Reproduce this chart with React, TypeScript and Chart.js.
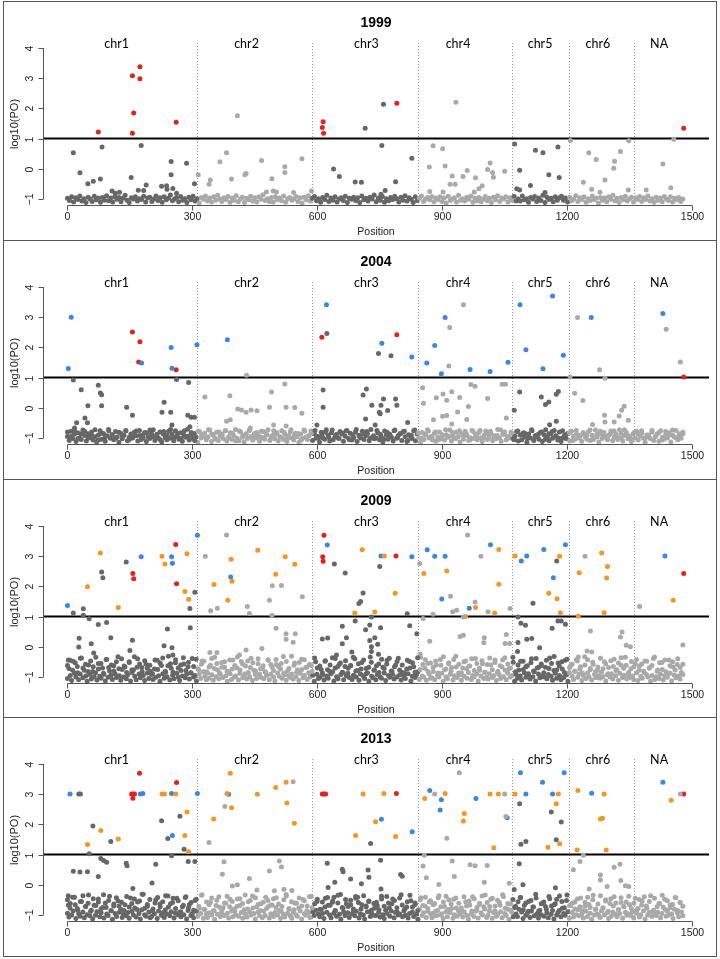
import React, { useEffect, useRef } from "react";
import { Chart, registerables } from "chart.js";
Chart.register(...registerables);

// ---------- shared axis / label data ----------
const chromLabels = ["chr1", "chr2", "chr3", "chr4", "chr5", "chr6", "NA"];
const chromLabelPos = [118, 430, 718, 938, 1135, 1274, 1421];
const chromBounds = [312, 588, 842, 1068, 1205, 1360];
const xTicks = [0, 300, 600, 900, 1200, 1500];
const yTicks = [-1, 0, 1, 2, 3, 4];
const yTickLabels = ["\u22121", "0", "1", "2", "3", "4"];
const threshold = 1;
const years = ["1999", "2004", "2009", "2013"];

// ---------- 1999 ----------
const band1999 = [
  -.98,-1.05,-.93,-1.1,-.96,-1.02,-.9,-1.07,-.99,-1.12,-.94,-1.0,-1.08,-.91,-1.03,-.97,-1.11,-.95,-1.04,-.89,
  -1.06,-.97,-1.1,-.92,-1.01,-.95,-1.09,-.98,-.88,-1.04,-1.12,-.96,-1.0,-.93,-1.07,-.99,-1.02,-.91,-1.1,-.97,
  -.94,-1.08,-1.0,-.9,-1.05,-.96,-1.11,-.93,-1.03,-.98,-.87,-1.06,-1.0,-.95,-1.09,-.92,-1.04,-.99,-1.12,-.94,
  -1.03,-.91,-1.07,-.99,-1.13,-.95,-1.01,-.9,-1.06,-.97,-1.1,-.93,-1.04,-.88,-1.0,-1.08,-.96,-1.02,-.92,-1.11,
  -.97,-1.04,-.89,-1.09,-1.0,-.94,-1.12,-.98,-1.03,-.91,-1.07,-.96,-1.1,-.93,-1.01,-.86,-1.05,-.99,-1.08,-.95,
  -1.1,-.93,-1.02,-.97,-1.06,-.9,-1.11,-.99,-.95,-1.04,-1.0,-.92,-1.08,-.96,-1.13,-.94,-1.03,-.89,-1.07,-.98,
  -.92,-1.06,-.99,-1.11,-.95,-1.02,-.88,-1.08,-.97,-1.04,-.93,-1.1,-1.0,-.96,-1.05,-.91,-1.12,-.98,-1.01,-.94,
  -1.05,-.96,-1.12,-.9,-1.03,-.98,-1.07,-.94,-1.0,-.87,-1.09,-.97,-1.04,-.92,-1.11,-.99,-1.06,-.95,-1.02,-.91,
  -.99,-1.1,-.94,-1.04,-.89,-1.07,-.96,-1.01,-1.12,-.93,-1.05,-.98,-.9,-1.08,-1.0,-.95,-1.03,-.92,-1.09,-.97,
  -1.02,-.93,-1.08,-.97,-1.13,-.91,-1.05,-1.0,-.96,-1.1,-.88,-1.04,-.99,-1.07,-.94,-1.01,-.9,-1.11,-.98,-1.06,
  -.95,-1.09,-1.01,-.92,-1.06,-.98,-1.12,-.94,-1.03,-.89,-1.08,-.97,-1.0,-.93,-1.1,-.96,-1.04,-.91,-1.07,-1.0,
  -1.07,-.9,-1.03,-.99,-1.11,-.95,-1.0,-.92,-1.08,-.97,-1.05,-.88,-1.12,-.94,-1.02,-.98,-1.09,-.93,-1.04,-.96,
  -.91,-1.04,-.97,-1.1,-.94,-1.06,-1.0,-.89,-1.08,-.96,-1.02,-.93,-1.11,-.99,-1.05,-.9,-1.03,-.97,-1.13,-.95,
  -1.04,-.97,-1.09,-.93,-1.01,-.88,-1.06,-.98,-1.12,-.95,-1.03,-.91,-1.07,-1.0,-.94,-1.1,-.96,-1.02,-.92,-1.08,
  -.96,-1.02,-.9,-1.07,-.99,-1.11,-.94,-1.04,-.97,-1.09,-.92,-1.0,-1.05,-.93,-1.1,-.98,-1.03,-.95,-1.08,-1.0,
];
const band1999b = [];
const gray1999 = [
  [14,.53],[30,-.13],[83,.72],[79,-.34],[62,-.41],[49,-.5],[177,.77],[153,-.29],[170,-.71],[183,-.72],[189,-.54],
  [107,-.74],[115,-.81],[125,-.78],[249,.24],[249,-.2],[226,-.58],[238,-.56],[253,-.65],[239,-.68],[262,-.81],
  [286,.18],[305,-.5],[314,-.2],[408,1.76],[382,.53],[366,.23],[343,-.37],[340,-.51],[394,-.34],[429,-.16],
  [426,-.2],[466,.27],[491,-.33],[522,.07],[522,-.12],[478,-.77],[494,-.74],[502,-.77],[543,-.79],[563,.33],
  [586,-.74],[639,-.01],[653,-.26],[691,-.44],[715,1.34],[759,2.14],[755,.77],[706,-.45],[788,-.43],[763,-.72],
  [753,-.84],[827,.35],[933,2.2],[878,.76],[901,.66],[869,.06],[907,.09],[924,-.24],[919,-.51],[931,-.51],
  [950,-.26],[960,-.06],[980,-.3],[996,-.56],[988,-.66],[1015,.19],[1021,-.12],[1023,-.28],[1009,-.02],
  [1050,-.08],[870,-.75],[902,-.77],[977,-.77],[1074,.82],[1124,.61],[1142,.53],[1178,.72],[1208,.94],
  [1086,-.05],[1112,-.55],[1156,-.2],[1181,-.29],[1147,-.79],[1079,-.66],[1086,-.7],[1252,.53],[1270,.31],
  [1328,.57],[1314,.25],[1312,.02],[1291,-.37],[1239,-.45],[1259,-.68],[1279,-.78],[1348,.93],[1347,-.7],
  [1430,.16],[1456,.98],[1449,-.63],[1390,-.7],
];
const red1999 = [
  [74,1.22],[156,3.08],[174,3.38],[174,2.98],[159,1.85],[156,1.18],[261,1.54],[614,1.56],[612,1.37],
  [615,1.18],[791,2.17],[1480,1.34],
];
const blue1999 = [];
const orange1999 = [];

// ---------- 2004 ----------
const band2004 = [
  -.95,-1.08,-.78,-1.02,-.88,-1.12,-.83,-.99,-1.05,-.74,-.92,-1.1,-.86,-1.0,-.8,-1.07,-.96,-1.13,-.9,-.76,
  -1.04,-.85,-1.11,-.93,-.72,-1.01,-.89,-1.06,-.79,-.97,-1.14,-.84,-1.03,-.91,-.77,-1.09,-.98,-.87,-1.0,-.81,
  -.93,-1.1,-.75,-1.05,-.9,-.82,-1.12,-.96,-1.02,-.86,-.73,-1.08,-.94,-1.0,-.8,-1.13,-.88,-.99,-1.06,-.78,
  -1.01,-.87,-1.09,-.76,-.95,-1.04,-.83,-1.11,-.91,-.98,-.71,-1.07,-.89,-1.02,-.85,-.97,-1.14,-.79,-1.0,-.92,
  -.84,-1.06,-.97,-.74,-1.12,-.9,-1.0,-.81,-1.08,-.94,-.87,-1.03,-.77,-1.1,-.96,-.83,-1.05,-.92,-.72,-1.01,
  -1.09,-.8,-.98,-1.13,-.88,-1.02,-.75,-.95,-1.07,-.85,-1.0,-.91,-1.11,-.78,-.99,-1.04,-.86,-.73,-1.08,-.94,
  -.9,-1.03,-.82,-1.1,-.97,-.76,-1.05,-.89,-1.12,-.93,-.8,-1.0,-1.07,-.84,-.96,-1.14,-.87,-1.02,-.74,-.98,
  -1.05,-.92,-.77,-1.08,-.86,-1.01,-.95,-1.13,-.81,-.99,-1.04,-.73,-.9,-1.1,-.83,-1.06,-.97,-.88,-1.0,-.79,
  -.87,-1.11,-.94,-.75,-1.02,-.84,-1.07,-.99,-.8,-1.12,-.91,-1.0,-.78,-1.05,-.93,-.86,-1.09,-.72,-.97,-1.03,
  -1.0,-.83,-1.06,-.95,-1.13,-.77,-.9,-1.04,-.88,-.98,-1.1,-.74,-1.01,-.92,-.85,-1.08,-.79,-.96,-1.12,-.89,
  -.93,-1.02,-.76,-1.09,-.87,-.99,-1.14,-.82,-1.05,-.9,-.73,-1.0,-.95,-1.07,-.84,-1.11,-.97,-.8,-1.03,-.91,
  -1.07,-.89,-.98,-.74,-1.1,-.94,-1.01,-.81,-.96,-1.13,-.86,-1.04,-.78,-.92,-1.08,-.99,-.75,-1.02,-.88,-1.06,
  -.82,-1.0,-1.12,-.91,-.77,-1.05,-.97,-.85,-1.09,-.93,-1.03,-.72,-.99,-1.11,-.88,-.8,-1.06,-.95,-1.0,-.84,
  -1.03,-.94,-.79,-1.1,-.9,-1.06,-.83,-.98,-1.14,-.87,-1.0,-.76,-1.08,-.92,-.96,-1.04,-.81,-1.12,-.89,-.73,
  -.97,-1.09,-.86,-1.01,-.75,-.93,-1.07,-.8,-1.12,-.99,-.9,-1.03,-.84,-1.1,-.78,-.95,-1.05,-.88,-1.0,-.92,
  -1.11,-.85,-.96,-1.04,-.79,-1.08,-.91,-1.0,-.74,-.97,-1.13,-.87,-1.02,-.82,-.94,-1.06,-.9,-.77,-1.09,-.98,
  -.88,-1.05,-.73,-.99,-1.1,-.92,-.81,-1.03,-.95,-1.12,-.86,-1.0,-.78,-1.07,-.93,-.84,-1.01,-1.14,-.9,-.96,
  -1.02,-.8,-1.08,-.94,-.87,-1.11,-.76,-.98,-1.04,-.89,-1.0,-.83,-1.13,-.91,-.97,-.75,-1.06,-.92,-1.01,-.86,
];
const band2004b = [
  -.8,-.95,-.74,-1.03,-.86,-.78,-.99,-.91,-.73,-1.07,-.84,-.96,-.76,-.89,-1.01,-.81,-.93,-.75,-1.05,-.87,
  -.77,-.92,-1.0,-.83,-.74,-.97,-.88,-1.06,-.79,-.9,-.72,-.98,-.85,-1.02,-.76,-.94,-.82,-1.08,-.78,-.89,
  -.95,-.73,-.87,-1.04,-.8,-.91,-.75,-.99,-.84,-1.1,-.77,-.93,-.86,-.74,-1.01,-.82,-.96,-.79,-.9,-1.05,
  -.76,-.88,-.97,-.81,-1.03,-.73,-.92,-.85,-1.07,-.78,-.94,-.83,-.75,-1.0,-.89,-.8,-.98,-.74,-.91,-1.02,
  -.84,-.77,-1.06,-.9,-.72,-.96,-.86,-.79,-1.01,-.93,-.75,-.88,-1.04,-.81,-.95,-.76,-.99,-.85,-.78,-1.08,
  -.91,-.74,-.83,-1.0,-.87,-.77,-.97,-.8,-1.05,-.89,-.73,-.94,-.82,-1.02,-.76,-.9,-.86,-1.07,-.79,-.93,
  -.75,-.99,-.85,-.78,-1.03,-.92,-.74,-.88,-.96,-.81,-1.06,-.77,-.9,-.84,-1.0,-.73,-.95,-.87,-.8,-1.04,
  -.86,-.79,-.94,-1.01,-.76,-.89,-.83,-1.08,-.75,-.97,-.82,-.91,-.74,-1.05,-.88,-.78,-.93,-1.0,-.85,-.77,
  -.98,-.84,-.73,-.92,-1.04,-.8,-.87,-.76,-1.02,-.9,-.75,-.96,-.83,-1.07,-.79,-.89,-.74,-.99,-.86,-.81,
];
const gray2004 = [
  [14,.92],[33,.6],[74,.75],[79,.49],[82,.43],[82,.07],[49,.07],[42,-.34],[48,-.5],[22,-.5],[17,-.67],[142,.02],
  [156,-.25],[232,.18],[227,-.15],[248,-.15],[251,-.57],[262,.94],[291,.84],[289,-.25],[297,-.31],[305,-.31],
  [294,-.63],[330,.36],[390,.4],[430,1.08],[382,-.45],[391,-.4],[409,-.04],[418,-.07],[429,-.15],[441,-.07],
  [455,-.1],[485,.02],[490,.52],[522,.79],[525,.02],[546,.01],[563,-.18],[495,-.57],[525,-.6],[439,-.67],
  [623,2.46],[614,.59],[614,.02],[599,-.57],[747,1.8],[777,1.72],[710,.42],[718,.62],[731,.08],[753,.08],
  [759,.29],[769,-.09],[788,.29],[791,.08],[749,-.15],[751,-.2],[716,-.37],[739,-.57],[817,-.49],
  [951,3.41],[918,2.66],[916,1.38],[853,.66],[855,.15],[879,-.4],[886,.33],[902,.46],[911,.25],[923,.53],
  [901,-.28],[911,-.26],[923,-.54],[937,-.14],[942,.34],[963,.04],[959,-.39],[969,.77],[979,.71],[1009,.31],
  [1044,.78],[1052,.78],[1054,-.34],[1086,.52],[1073,-.08],[1138,.36],[1148,.11],[1156,.19],[1174,.45],
  [1179,.54],[1158,-.56],[1174,-.45],[1207,1.02],[1225,2.99],[1218,.48],[1238,.24],[1278,1.26],[1291,.98],
  [1290,-.25],[1291,-.47],[1261,-.55],[1313,-.47],[1325,-.27],[1331,-.08],[1337,.05],[1347,-.41],
  [1438,2.6],[1472,1.52],
];
const red2004 = [
  [156,2.51],[174,2.19],[171,1.52],[261,1.26],[611,2.34],[791,2.42],[1480,1.02],
];
const blue2004 = [
  [9,3.0],[2,1.3],[249,2.0],[251,1.31],[178,1.48],[311,2.09],[384,2.25],[622,3.41],[755,2.14],[827,1.68],
  [863,1.48],[882,2.06],[898,1.13],[907,2.99],[967,1.27],[1015,1.2],[1058,1.51],[1087,3.41],[1101,1.92],
  [1165,3.7],[1142,1.29],[1191,1.74],[1258,2.99],[1430,3.12],
];
const orange2004 = [];

// ---------- 2009 ----------
const band2009 = [
  -1.05,-.72,-.95,-1.12,-.48,-.88,-1.0,-.65,-1.09,-.9,-.37,-1.03,-.78,-.97,-1.14,-.6,-.92,-1.07,-.82,-.99,
  -.86,-1.1,-.55,-.98,-1.04,-.7,-.91,-1.13,-.42,-1.01,-.8,-.94,-1.08,-.63,-.89,-1.02,-.33,-.96,-1.11,-.75,
  -1.0,-.67,-1.06,-.93,-.5,-1.13,-.85,-.77,-.98,-1.09,-.4,-.9,-1.03,-.69,-.95,-1.12,-.58,-.87,-1.05,-.81,
  -.92,-1.08,-.74,-1.01,-.45,-.96,-1.14,-.62,-.89,-1.04,-.84,-.99,-.31,-1.1,-.71,-.94,-1.06,-.53,-.88,-1.0,
  -1.12,-.79,-.97,-.57,-1.03,-.9,-.66,-1.07,-.86,-.39,-1.0,-.95,-1.13,-.73,-.91,-1.05,-.47,-.83,-.98,-1.09,
  -.87,-1.04,-.61,-.93,-1.11,-.35,-.99,-.76,-1.06,-.9,-.52,-1.02,-.68,-.96,-1.14,-.82,-.89,-1.08,-.44,-1.0,
  -.97,-.7,-1.1,-.88,-.49,-1.03,-.94,-.64,-1.07,-.85,-.99,-.38,-1.12,-.78,-.92,-1.05,-.56,-.9,-1.01,-.73,
  -1.06,-.83,-.95,-.43,-1.09,-.91,-.67,-1.0,-1.13,-.59,-.87,-.98,-.74,-1.04,-.32,-.93,-1.11,-.8,-.96,-1.02,
  -.9,-1.07,-.54,-.99,-.77,-1.12,-.88,-.41,-1.03,-.95,-.69,-1.08,-.86,-1.0,-.62,-.94,-1.14,-.5,-.91,-1.05,
  -1.01,-.75,-.93,-1.1,-.46,-.97,-1.04,-.81,-.89,-.36,-1.13,-.7,-.99,-1.06,-.58,-.92,-.84,-1.09,-.65,-.96,
  -.88,-1.02,-.63,-1.08,-.94,-.4,-1.0,-.79,-1.11,-.9,-.52,-.97,-1.05,-.72,-.86,-1.14,-.34,-.98,-1.03,-.77,
  -1.09,-.92,-.57,-.99,-1.04,-.68,-.87,-1.12,-.45,-.95,-1.01,-.8,-.91,-1.07,-.61,-1.0,-.38,-.93,-1.1,-.85,
  -.96,-1.05,-.74,-.89,-.49,-1.13,-.98,-.66,-1.02,-.92,-.83,-1.08,-.35,-.97,-1.0,-.71,-1.11,-.55,-.9,-1.04,
  -1.03,-.82,-1.09,-.6,-.94,-1.0,-.42,-.88,-1.14,-.76,-.99,-1.06,-.53,-.91,-.69,-1.1,-.96,-.31,-1.02,-.87,
  -.93,-1.11,-.7,-.98,-.47,-1.04,-.85,-.64,-1.08,-.95,-1.0,-.39,-.9,-1.13,-.78,-.97,-.56,-1.05,-.84,-1.01,
  -1.07,-.89,-.6,-1.02,-.96,-.44,-1.12,-.81,-.92,-1.05,-.67,-.99,-.36,-1.09,-.87,-.73,-1.0,-.95,-.51,-1.14,
  -.91,-1.04,-.77,-.97,-1.1,-.48,-.86,-1.01,-.63,-.94,-1.07,-.4,-.99,-.83,-1.13,-.7,-.9,-1.03,-.57,-.96,
  -1.0,-.68,-1.06,-.92,-.37,-.98,-1.11,-.79,-.88,-1.04,-.54,-.95,-1.09,-.74,-1.02,-.45,-.93,-1.14,-.85,-.62,
  -.97,-1.08,-.81,-.43,-1.01,-.9,-.66,-1.12,-.95,-.33,-1.05,-.87,-.99,-.72,-1.1,-.58,-.92,-1.03,-.78,-.96,
  -1.04,-.84,-.99,-.5,-1.13,-.93,-.69,-1.0,-.89,-1.07,-.41,-.96,-.76,-1.11,-.88,-.61,-1.02,-.94,-.35,-1.06,
  -.9,-1.02,-.73,-.97,-1.09,-.56,-.86,-1.12,-.64,-.98,-1.04,-.8,-.47,-.92,-1.0,-.7,-1.14,-.95,-.39,-1.08,
  -.99,-.77,-1.05,-.91,-.52,-1.1,-.96,-.83,-1.01,-.44,-.88,-1.13,-.67,-.94,-1.03,-.59,-.97,-1.07,-.85,-.92,
];
const band2009b = [
  -.62,-.45,-.78,-.53,-.86,-.38,-.7,-.58,-.82,-.47,-.66,-.35,-.74,-.55,-.88,-.42,-.69,-.6,-.8,-.5,
  -.73,-.4,-.64,-.85,-.52,-.77,-.33,-.68,-.57,-.83,-.46,-.71,-.61,-.89,-.44,-.75,-.54,-.37,-.81,-.63,
  -.56,-.84,-.43,-.7,-.6,-.36,-.79,-.51,-.87,-.65,-.41,-.76,-.58,-.48,-.83,-.67,-.39,-.72,-.55,-.86,
  -.68,-.5,-.81,-.44,-.74,-.62,-.34,-.77,-.57,-.89,-.47,-.69,-.53,-.8,-.4,-.73,-.63,-.85,-.45,-.59,
  -.79,-.42,-.66,-.55,-.88,-.49,-.72,-.31,-.61,-.84,-.52,-.75,-.43,-.67,-.58,-.82,-.37,-.7,-.64,-.87,
  -.48,-.76,-.6,-.83,-.39,-.65,-.54,-.86,-.46,-.71,-.62,-.35,-.8,-.56,-.74,-.44,-.89,-.68,-.51,-.78,
  -.63,-.85,-.41,-.72,-.57,-.38,-.81,-.66,-.49,-.77,-.6,-.88,-.45,-.7,-.53,-.84,-.36,-.75,-.59,-.43,
  -.82,-.54,-.69,-.47,-.87,-.61,-.33,-.74,-.56,-.8,-.42,-.67,-.58,-.86,-.5,-.73,-.64,-.4,-.79,-.55,
  -.71,-.46,-.84,-.59,-.37,-.76,-.52,-.88,-.63,-.44,-.78,-.57,-.7,-.35,-.83,-.6,-.48,-.75,-.66,-.89,
  -.53,-.8,-.39,-.68,-.62,-.86,-.45,-.72,-.55,-.32,-.77,-.64,-.5,-.85,-.41,-.69,-.58,-.81,-.47,-.74,
  -.87,-.6,-.43,-.76,-.51,-.83,-.67,-.38,-.73,-.56,-.89,-.46,-.65,-.79,-.54,-.36,-.71,-.61,-.84,-.49,
  -.66,-.42,-.78,-.57,-.85,-.48,-.7,-.62,-.34,-.81,-.53,-.75,-.44,-.88,-.63,-.5,-.77,-.4,-.69,-.58,
];
const gray2009 = [
  [14,1.12],[38,1.26],[38,1.04],[52,.93],[74,.74],[94,.8],[82,2.48],[85,2.29],[141,2.81],[28,.28],[27,-.01],
  [57,.1],[104,.3],[156,.22],[150,-.12],[240,.59],[232,.03],[251,-.03],[253,-.27],[294,1.27],[295,.63],
  [306,1.81],[63,-.21],[2,-.44],[331,3.0],[382,3.7],[344,1.19],[360,1.28],[432,1.33],[437,1.1],[485,1.54],
  [492,2.02],[514,2.03],[491,1.04],[564,1.66],[501,.61],[525,.43],[547,.43],[525,.25],[542,.15],[342,-.19],
  [359,-.19],[413,-.27],[429,-.11],[467,-.06],[641,2.74],[667,2.44],[700,1.43],[612,.26],[625,.29],[660,.68],
  [660,.1],[670,.3],[683,-.17],[691,.85],[646,-.27],[750,2.66],[710,1.78],[704,1.5],[730,.99],[816,1.09],
  [726,.72],[716,.56],[752,.63],[822,.7],[839,.43],[726,.21],[738,.3],[730,0],[745,.08],[730,-.16],[747,-.25],
  [961,3.7],[993,3.0],[846,2.76],[920,1.67],[979,1.48],[925,1.16],[935,1.21],[1010,1.16],[1063,1.27],[854,.94],
  [878,1.08],[951,.99],[943,.34],[951,.38],[870,.18],[1001,.3],[1000,.13],[1054,.41],[1051,.11],[1062,.11],
  [847,-.24],[1175,2.84],[1118,1.44],[1082,.99],[1089,.78],[1100,.71],[1164,.61],[1178,.85],[1186,.85],
  [1196,.75],[1103,.25],[1115,.27],[1082,.14],[1134,-.03],[1081,-.16],[1243,3.0],[1256,.52],[1328,.32],
  [1332,.49],[1342,.05],[1352,0],[1248,-.14],[1259,-.17],[1227,-.34],[1374,1.33],[1478,.06],
];
const red2009 = [
  [157,2.43],[159,2.25],[260,3.39],[262,2.09],[616,3.69],[613,2.98],[614,2.83],[789,3.01],[1480,2.43],
];
const blue2009 = [
  [0,1.37],[177,2.98],[250,2.98],[252,2.77],[312,3.69],[392,2.31],[624,3.37],[753,3.01],[827,2.98],[864,3.21],
  [882,3.0],[907,3.0],[1016,3.38],[899,1.58],[965,1.28],[1090,2.84],[1103,3.01],[1144,3.22],[1196,3.38],
  [1167,2.29],[1435,3.01],
];
const orange2009 = [
  [79,3.11],[48,1.99],[122,1.3],[227,3.0],[234,2.74],[287,3.08],[282,1.83],[291,1.57],[352,2.06],[393,2.9],
  [395,2.17],[385,1.54],[457,3.2],[500,2.4],[523,2.98],[546,2.73],[690,1.12],[708,3.21],[761,3.01],[787,1.77],
  [738,1.15],[1036,3.22],[856,2.43],[911,2.51],[1036,2.07],[980,1.3],[956,1.0],[1026,1.12],[1075,3.01],
  [1182,3.0],[1156,1.77],[1176,1.59],[1184,1.13],[1229,2.45],[1283,3.11],[1297,2.66],[1295,2.28],[1227,1.01],
  [1289,1.13],[1455,1.54],
];

// ---------- 2013 ----------
const band2013 = [
  -.94,-1.07,-.62,-1.0,-.87,-.41,-1.12,-.79,-.96,-1.04,-.55,-.9,-1.09,-.72,-.99,-.34,-1.03,-.84,-1.13,-.68,
  -1.01,-.89,-.47,-1.06,-.93,-.75,-1.1,-.6,-.97,-1.02,-.38,-.86,-1.14,-.7,-.95,-1.05,-.53,-.91,-.81,-1.08,
  -.98,-.66,-1.03,-.92,-1.11,-.44,-.88,-1.0,-.77,-1.07,-.57,-.95,-1.13,-.83,-.31,-.99,-1.04,-.71,-.9,-1.09,
  -1.05,-.8,-.96,-.5,-1.12,-.87,-.64,-1.01,-.93,-1.08,-.36,-.97,-.74,-1.03,-.89,-.59,-1.1,-.94,-.45,-1.0,
  -.91,-1.06,-.73,-.99,-.42,-1.13,-.85,-.65,-1.02,-.96,-1.09,-.52,-.88,-1.04,-.78,-.95,-.33,-1.11,-.82,-.97,
  -1.08,-.93,-.58,-1.0,-.86,-1.14,-.69,-.98,-.4,-1.05,-.9,-.76,-1.02,-.61,-.94,-1.1,-.48,-.87,-1.06,-.8,
  -.99,-.71,-1.04,-.46,-.92,-1.11,-.83,-.97,-1.07,-.56,-.89,-1.0,-.37,-.95,-1.13,-.74,-.9,-1.03,-.63,-1.09,
  -.88,-1.02,-.79,-.52,-1.1,-.96,-.67,-1.05,-.92,-.43,-1.0,-.85,-1.12,-.72,-.98,-1.07,-.32,-.94,-.81,-1.03,
  -1.11,-.9,-.6,-.99,-1.04,-.77,-.87,-1.13,-.49,-.96,-1.01,-.7,-.93,-1.08,-.39,-.89,-1.02,-.84,-.55,-.97,
  -1.06,-.82,-.95,-1.12,-.45,-.91,-.68,-1.0,-1.09,-.58,-.94,-.86,-1.04,-.35,-.98,-1.14,-.75,-.9,-1.02,-.63,
  -.93,-1.08,-.51,-.97,-.8,-1.03,-.88,-.41,-1.1,-.96,-.66,-1.0,-1.13,-.73,-.89,-.54,-1.05,-.94,-1.01,-.78,
  -1.02,-.69,-.91,-1.07,-.38,-.99,-1.12,-.84,-.95,-.6,-1.04,-.87,-.47,-1.09,-.92,-.76,-1.0,-.97,-.33,-1.06,
  -.86,-1.01,-.74,-1.1,-.95,-.53,-.9,-1.05,-.65,-.98,-1.14,-.81,-.43,-1.02,-.93,-.7,-1.08,-.88,-.57,-.96,
  -1.09,-.94,-.62,-1.03,-.85,-.36,-1.0,-.96,-1.12,-.72,-.89,-1.06,-.5,-.92,-.79,-1.11,-.99,-.44,-1.04,-.87,
  -.95,-.77,-1.07,-.9,-.56,-1.02,-1.13,-.67,-.98,-.4,-1.05,-.88,-.83,-1.1,-.61,-.93,-1.0,-.73,-.34,-1.08,
  -1.0,-.86,-.48,-1.11,-.92,-.7,-1.04,-.97,-.58,-.89,-1.09,-.39,-.95,-1.02,-.8,-1.14,-.64,-.91,-1.06,-.75,
  -.97,-1.05,-.81,-.42,-.9,-1.12,-.68,-1.01,-.94,-.55,-1.08,-.87,-.74,-1.03,-.31,-.96,-1.1,-.84,-.99,-.6,
  -1.04,-.72,-.93,-1.09,-.46,-.98,-.85,-1.13,-.63,-1.0,-.91,-.37,-1.06,-.78,-.95,-1.01,-.52,-.89,-1.11,-.69,
  -.92,-1.07,-.57,-.99,-.83,-1.03,-.44,-.96,-1.1,-.71,-.88,-1.05,-.65,-.94,-1.14,-.35,-1.0,-.8,-.97,-1.02,
  -1.08,-.87,-.76,-1.0,-.5,-.93,-1.12,-.62,-1.04,-.9,-.4,-.98,-1.06,-.82,-.95,-.59,-1.11,-.73,-.91,-1.01,
  -.96,-.66,-1.03,-.89,-1.1,-.45,-.94,-.79,-1.07,-.99,-.54,-.86,-1.13,-.7,-1.0,-.92,-.36,-1.05,-.84,-.97,
  -1.02,-.91,-.61,-1.09,-.95,-.74,-.48,-1.04,-.88,-1.0,-.67,-.97,-1.12,-.81,-.43,-.93,-1.06,-.58,-.9,-1.03,
];
const band2013b = [
  -.5,-.77,-.41,-.66,-.84,-.55,-.36,-.72,-.61,-.88,-.46,-.69,-.57,-.8,-.33,-.75,-.52,-.86,-.64,-.43,
  -.7,-.58,-.85,-.39,-.74,-.62,-.47,-.82,-.54,-.31,-.78,-.65,-.49,-.87,-.6,-.42,-.73,-.56,-.83,-.37,
  -.63,-.45,-.79,-.53,-.89,-.68,-.4,-.76,-.59,-.84,-.48,-.71,-.35,-.81,-.57,-.66,-.44,-.86,-.51,-.74,
  -.82,-.6,-.38,-.73,-.55,-.87,-.47,-.69,-.62,-.34,-.8,-.52,-.77,-.43,-.65,-.85,-.58,-.41,-.72,-.67,
  -.46,-.75,-.64,-.88,-.5,-.37,-.79,-.56,-.83,-.61,-.44,-.7,-.53,-.86,-.39,-.76,-.63,-.48,-.81,-.57,
  -.74,-.42,-.68,-.54,-.85,-.6,-.32,-.78,-.49,-.72,-.66,-.87,-.45,-.59,-.8,-.36,-.7,-.55,-.84,-.62,
  -.58,-.83,-.47,-.71,-.39,-.76,-.63,-.52,-.89,-.44,-.67,-.81,-.56,-.35,-.74,-.6,-.86,-.5,-.69,-.41,
  -.79,-.53,-.66,-.88,-.43,-.73,-.57,-.38,-.82,-.64,-.48,-.77,-.61,-.85,-.4,-.7,-.54,-.87,-.46,-.75,
  -.65,-.37,-.8,-.59,-.72,-.45,-.86,-.51,-.68,-.33,-.78,-.62,-.84,-.49,-.71,-.56,-.42,-.83,-.6,-.88,
  -.52,-.74,-.44,-.87,-.63,-.57,-.81,-.39,-.7,-.66,-.48,-.85,-.55,-.76,-.34,-.69,-.61,-.8,-.47,-.73,
  -.86,-.58,-.41,-.75,-.5,-.82,-.64,-.36,-.77,-.54,-.88,-.46,-.7,-.6,-.83,-.43,-.72,-.57,-.38,-.79,
  -.61,-.84,-.49,-.67,-.4,-.78,-.55,-.89,-.45,-.73,-.62,-.35,-.81,-.53,-.76,-.65,-.42,-.85,-.59,-.71,
];
const gray2013 = [
  [27,3.01],[31,3.01],[61,1.95],[104,1.43],[52,1.03],[80,.87],[87,.8],[94,.75],[74,.27],[14,.45],[30,.42],
  [48,.43],[2,-.36],[2,-.67],[141,.71],[143,.63],[157,-.12],[203,.06],[212,.68],[226,2.12],[241,1.53],
  [270,2.27],[250,.96],[280,1.18],[290,.77],[306,.77],[340,1.4],[376,.76],[372,.35],[378,2.59],[396,-.04],
  [408,0],[437,.21],[455,-.17],[485,.46],[509,.79],[514,.59],[497,-.2],[542,3.41],[520,-.15],[539,-.19],
  [624,.71],[626,-.09],[642,.08],[660,.51],[662,.43],[680,.19],[640,-.41],[692,-.39],[728,1.37],[752,.81],
  [722,.49],[724,.25],[800,.34],[804,.28],[706,.03],[753,-.14],[882,3.01],[941,3.71],[1050,3.01],[1053,2.26],
  [911,1.54],[857,.98],[854,.62],[924,.79],[967,.66],[979,.63],[1008,.64],[862,.23],[929,.27],[1001,.08],
  [1061,.05],[892,.01],[1086,2.68],[1162,2.41],[1186,2.08],[1089,1.34],[1101,1.43],[1174,1.49],[1085,.7],
  [1094,0],[1073,-.16],[1172,-.1],[1239,.98],[1215,.5],[1231,.77],[1280,.32],[1280,.16],[1313,.58],[1327,.68],
  [1329,.14],[1340,-.03],[1348,-.06],[1253,-.14],[1296,-.06],[1472,3.01],
];
const red2013 = [
  [173,3.69],[154,3.01],[159,3.01],[161,3.01],[157,2.87],[262,3.39],[612,3.01],[616,3.01],[620,3.01],
  [790,3.02],[1480,3.01],
];
const blue2013 = [
  [6,3.01],[175,3.01],[181,3.02],[250,3.02],[252,1.63],[312,3.02],[387,3.0],[754,2.17],[828,1.76],[870,3.12],
  [898,2.82],[895,2.48],[981,2.86],[1056,2.22],[1088,3.71],[1141,3.4],[1193,3.71],[1101,3.01],[1165,3.01],
  [1259,3.03],[1430,3.4],
];
const orange2013 = [
  [48,1.33],[80,1.8],[122,1.52],[227,3.01],[233,3.01],[260,3.01],[287,2.41],[282,1.63],[291,1.09],[383,3.02],
  [391,3.69],[394,2.55],[351,2.18],[456,3.0],[500,3.22],[525,3.4],[527,2.71],[545,2.04],[692,1.63],[710,3.01],
  [760,3.02],[740,2.09],[788,1.6],[858,2.86],[907,3.02],[953,2.36],[951,2.11],[1015,3.01],[1035,3.01],
  [1024,1.23],[1075,3.01],[1179,3.01],[1174,2.68],[1154,1.24],[1182,1.36],[1226,3.12],[1289,3.01],[1280,2.18],
  [1285,2.2],[1224,1.15],[1294,1.15],[1450,2.8],
];

// ---------- styling ----------
const DARK = "#676767";
const LIGHT = "#a9a9a9";
const RED = "#e5211d";
const BLUE = "#3a87e2";
const ORANGE = "#f2981f";
const PANEL_TOPS = [1, 240, 479, 717];
const CANVAS_W = 712;
const CANVAS_H = 238;

function chromIndex(pos: number) {
  let i = 0;
  while (i < chromBounds.length && pos >= chromBounds[i]) i++;
  return i;
}
function grayColor(pos: number) {
  const i = chromIndex(pos);
  return i === 0 || i === 2 || i === 4 ? DARK : LIGHT;
}

const panels = [
  { band: band1999, band2: band1999b, gray: gray1999, red: red1999, blue: blue1999, orange: orange1999 },
  { band: band2004, band2: band2004b, gray: gray2004, red: red2004, blue: blue2004, orange: orange2004 },
  { band: band2009, band2: band2009b, gray: gray2009, red: red2009, blue: blue2009, orange: orange2009 },
  { band: band2013, band2: band2013b, gray: gray2013, red: red2013, blue: blue2013, orange: orange2013 },
];

function bandToPts(arr: number[]) {
  if (arr.length < 2) return [];
  return arr.map((y, i) => ({ x: (i * 1478) / (arr.length - 1), y }));
}

function Panel({ idx }: { idx: number }) {
  const ref = useRef<HTMLCanvasElement | null>(null);
  useEffect(() => {
    const p = panels[idx];
    const title = years[idx];
    const bandPts = bandToPts(p.band).concat(bandToPts(p.band2));
    const grayPts = p.gray.map(([x, y]) => ({ x, y }));
    const toPts = (a: number[][]) => a.map(([x, y]) => ({ x, y }));
    const pt = (data: any[], color: any) => ({
      data,
      pointBackgroundColor: color,
      pointBorderWidth: 0,
      pointRadius: 2.5,
      pointHoverRadius: 2.5,
      borderWidth: 0,
      showLine: false,
    });

    const decor = {
      id: "decor" + idx,
      beforeDatasetsDraw(chart: any) {
        const { ctx, chartArea } = chart;
        const { left, right, top, bottom } = chartArea;
        const xs = chart.scales.x;
        const ys = chart.scales.y;
        ctx.save();
        ctx.strokeStyle = "#9a9a9a";
        ctx.lineWidth = 1;
        ctx.setLineDash([1, 2]);
        for (const b of chromBounds) {
          const x = Math.round(xs.getPixelForValue(b)) + 0.5;
          ctx.beginPath();
          ctx.moveTo(x, top);
          ctx.lineTo(x, bottom);
          ctx.stroke();
        }
        ctx.setLineDash([]);
        ctx.strokeStyle = "#000";
        ctx.lineWidth = 2;
        const ty = ys.getPixelForValue(threshold);
        ctx.beginPath();
        ctx.moveTo(left, ty);
        ctx.lineTo(right, ty);
        ctx.stroke();
        ctx.restore();
      },
      afterDatasetsDraw(chart: any) {
        const { ctx, chartArea } = chart;
        const { left, right, top, bottom } = chartArea;
        const xs = chart.scales.x;
        const ys = chart.scales.y;
        ctx.save();
        ctx.strokeStyle = "#555";
        ctx.lineWidth = 1;
        ctx.fillStyle = "#222";
        // y axis
        const ax = Math.round(left) + 0.5;
        ctx.beginPath();
        ctx.moveTo(ax, ys.getPixelForValue(yTicks[0]));
        ctx.lineTo(ax, ys.getPixelForValue(yTicks[yTicks.length - 1]));
        ctx.stroke();
        ctx.font = '10.5px "Liberation Sans", Arial, sans-serif';
        ctx.textAlign = "center";
        ctx.textBaseline = "middle";
        yTicks.forEach((v, i) => {
          const y = Math.round(ys.getPixelForValue(v)) + 0.5;
          ctx.beginPath();
          ctx.moveTo(ax - 5, y);
          ctx.lineTo(ax, y);
          ctx.stroke();
          ctx.save();
          ctx.translate(ax - 13, y);
          ctx.rotate(-Math.PI / 2);
          ctx.fillText(yTickLabels[i], 0, 0);
          ctx.restore();
        });
        // x axis
        const ay = Math.round(bottom) + 0.5;
        ctx.beginPath();
        ctx.moveTo(xs.getPixelForValue(xTicks[0]), ay);
        ctx.lineTo(xs.getPixelForValue(xTicks[xTicks.length - 1]), ay);
        ctx.stroke();
        xTicks.forEach((v) => {
          const x = Math.round(xs.getPixelForValue(v)) + 0.5;
          ctx.beginPath();
          ctx.moveTo(x, ay);
          ctx.lineTo(x, ay + 5);
          ctx.stroke();
          ctx.fillText(String(v), x, ay + 12);
        });
        const cx = (left + right) / 2;
        ctx.fillText("Position", cx, ay + 27);
        ctx.save();
        ctx.font = '11px "Liberation Sans", Arial, sans-serif';
        ctx.translate(11, (top + bottom) / 2);
        ctx.rotate(-Math.PI / 2);
        ctx.fillText("log10(PO)", 0, 0);
        ctx.restore();
        // title
        ctx.fillStyle = "#000";
        ctx.font = 'bold 14px "Liberation Sans", Arial, sans-serif';
        ctx.fillText(title, cx, 21);
        // chromosome labels
        ctx.fillStyle = "#000";
        ctx.font = '12.5px Lato, "Open Sans", sans-serif';
        chromLabels.forEach((lab, i) => {
          ctx.fillText(lab, xs.getPixelForValue(chromLabelPos[i]), top + 1);
        });
        ctx.restore();
      },
    };

    const chart = new Chart(ref.current as HTMLCanvasElement, {
      type: "scatter",
      data: {
        datasets: [
          pt(bandPts, bandPts.map((q) => grayColor(q.x))),
          pt(grayPts, grayPts.map((q) => grayColor(q.x))),
          pt(toPts(p.orange), ORANGE),
          pt(toPts(p.blue), BLUE),
          pt(toPts(p.red), RED),
        ] as any,
      },
      options: {
        responsive: false,
        animation: false,
        events: [],
        layout: { padding: { left: 39, right: 7, top: 41, bottom: 35 } },
        scales: {
          x: { type: "linear", display: false, min: -58.8, max: 1540.8 },
          y: { type: "linear", display: false, min: -1.2, max: 4.166 },
        },
        plugins: {
          legend: { display: false },
          tooltip: { enabled: false },
          title: { display: false },
        },
      } as any,
      plugins: [decor],
    });
    return () => chart.destroy();
  }, [idx]);

  return (
    <div
      style={{
        position: "absolute",
        left: 3,
        top: PANEL_TOPS[idx],
        width: 714,
        height: 240,
        border: "1px solid #555",
        boxSizing: "border-box",
        background: "#fff",
      }}
    >
      <canvas
        ref={ref}
        width={CANVAS_W}
        height={CANVAS_H}
        style={{ position: "absolute", left: 0, top: 0, width: CANVAS_W, height: CANVAS_H }}
      />
    </div>
  );
}

export default function App() {
  return (
    <div style={{ position: "absolute", left: 0, top: 0, width: 720, height: 959, background: "#fff" }}>
      {panels.map((_, i) => (
        <Panel key={i} idx={i} />
      ))}
    </div>
  );
}
